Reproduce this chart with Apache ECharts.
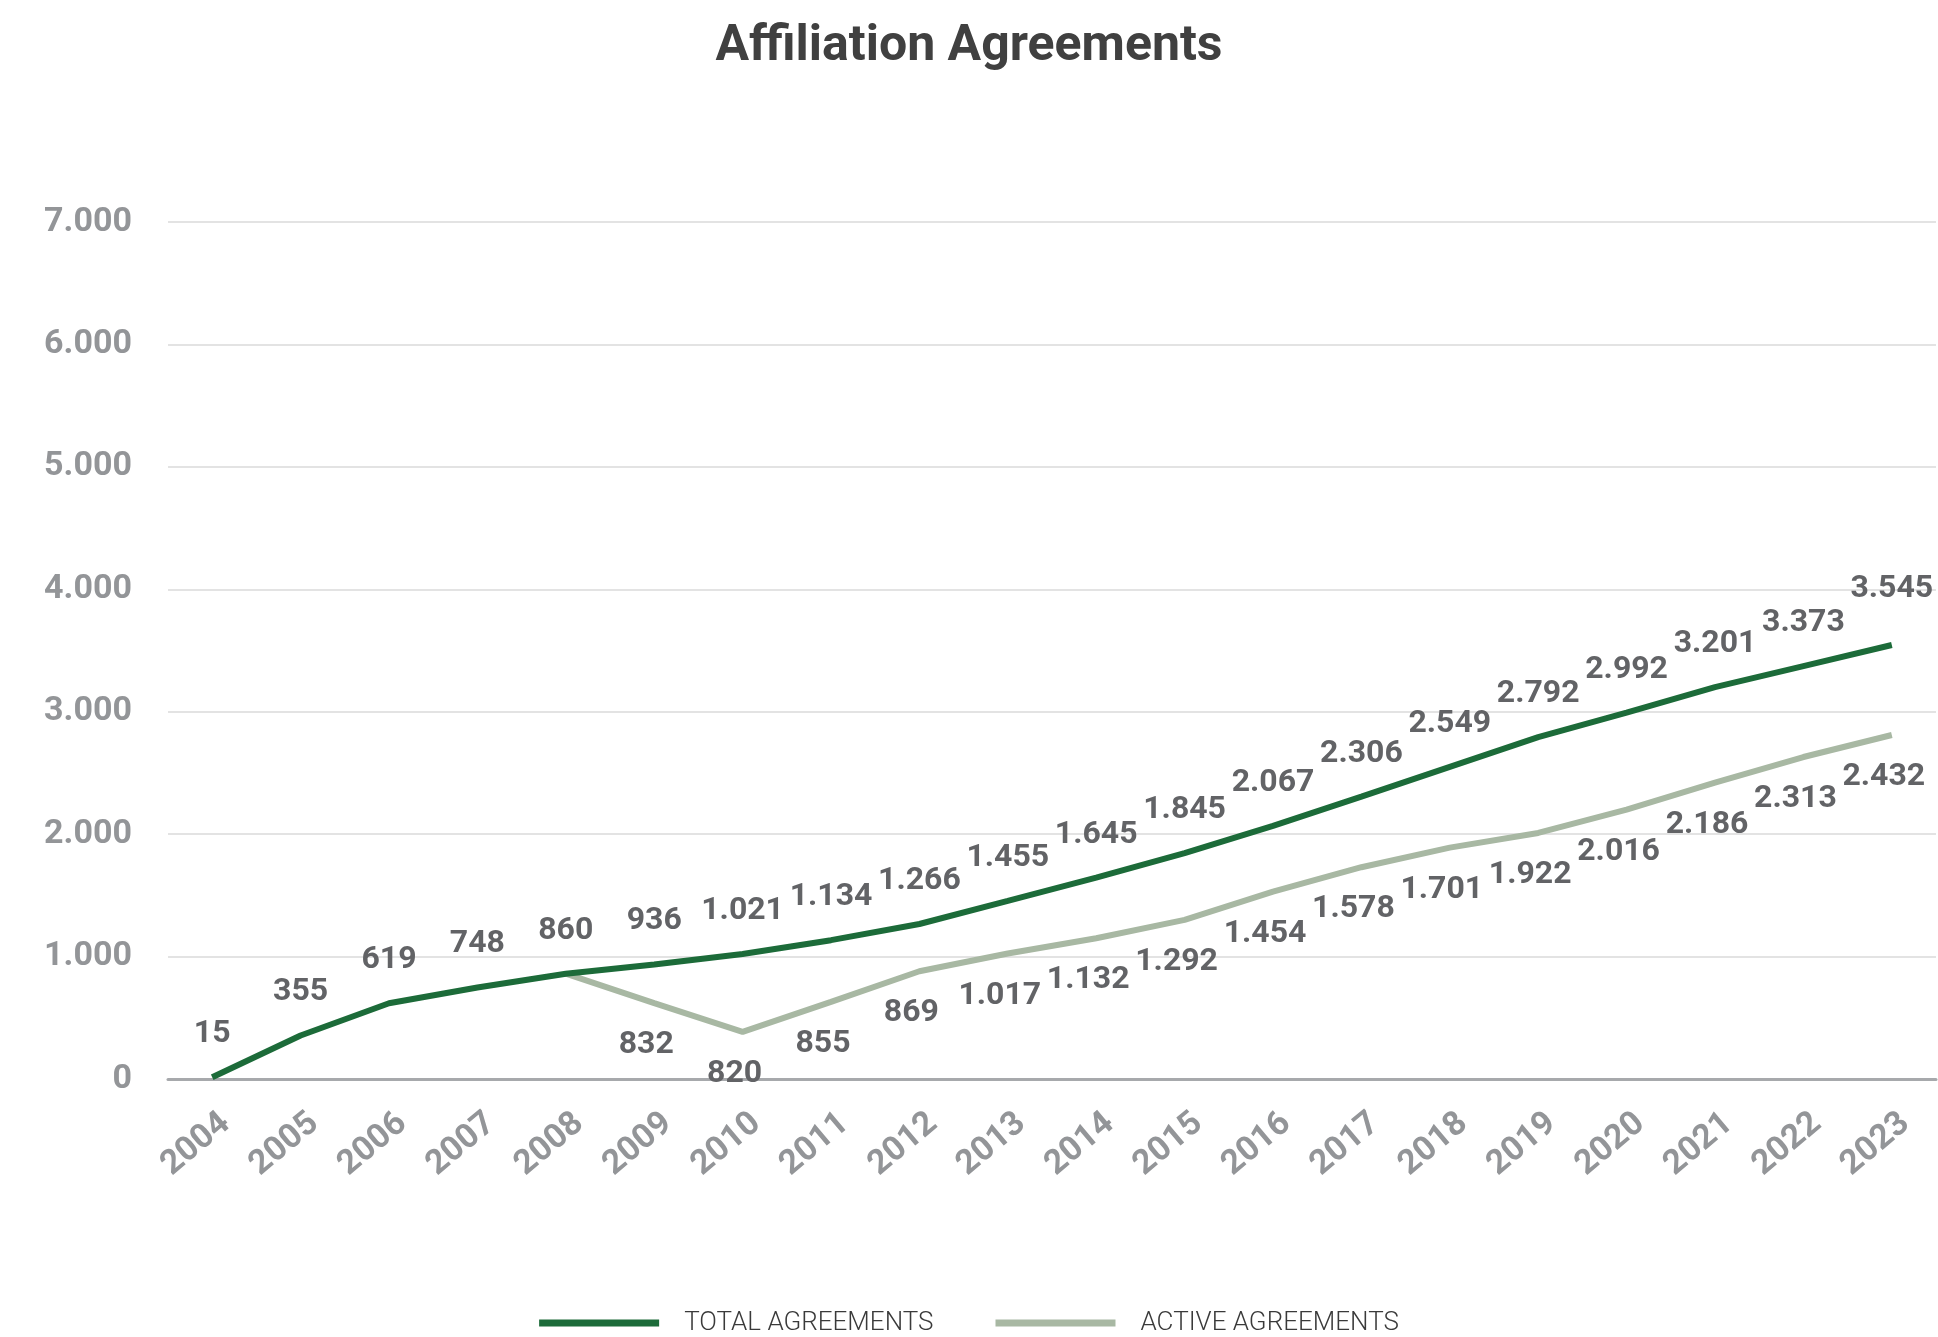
<!DOCTYPE html>
<html>
<head>
<meta charset="utf-8">
<script src="https://cdn.jsdelivr.net/npm/echarts@6/dist/echarts.min.js"></script>
<style>
html,body{margin:0;padding:0;background:#fff;}
#chart{width:1938px;height:1337px;}
</style>
</head>
<body>
<div id="chart"></div>
<script>
const years = ['2004','2005','2006','2007','2008','2009','2010','2011','2012','2013','2014','2015','2016','2017','2018','2019','2020','2021','2022','2023'];
const totalValues = [15,355,619,748,860,936,1021,1134,1266,1455,1645,1845,2067,2306,2549,2792,2992,3201,3373,3545];
// plotted position of the active line (as drawn)
const activeValues = [null,null,null,null,860,620,385,630,880,1025,1150,1300,1530,1730,1890,2010,2200,2420,2630,2810];
// labels printed next to the active line
const activeLabels = [null,null,null,null,null,832,820,855,869,1017,1132,1292,1454,1578,1701,1922,2016,2186,2313,2432];
const yTicks = [0,1000,2000,3000,4000,5000,6000,7000];

const FONT = "Roboto, 'Noto Sans', sans-serif";
function fmt(v){ return String(v).replace(/\B(?=(\d{3})+(?!\d))/g,'.'); }

const chart = echarts.init(document.getElementById('chart'), null, {renderer:'canvas'});
chart.setOption({
  animation:false,
  backgroundColor:'#ffffff',
  title:{
    text:'Affiliation Agreements',
    left:'center', top:17,
    textStyle:{fontFamily:FONT, fontSize:50, fontWeight:'bold', color:'#404040'}
  },
  grid:{left:168, right:2, top:222, bottom:258, containLabel:false},
  legend:{
    top:1305, left:'center',
    icon:'rect', itemWidth:120, itemHeight:7, itemGap:62,
    textStyle:{fontFamily:FONT, fontSize:26, fontWeight:300, color:'#3a3a3a', padding:[0,0,0,20]},
    data:['TOTAL AGREEMENTS','ACTIVE AGREEMENTS']
  },
  xAxis:{
    type:'category', data:years, boundaryGap:true,
    axisLine:{lineStyle:{color:'#a7a9ac', width:3}},
    axisTick:{show:false},
    axisLabel:{rotate:40, margin:52, padding:[0,-18,0,0], color:'#939598', fontFamily:FONT, fontWeight:'bold', fontSize:34, interval:0}
  },
  yAxis:{
    type:'value', min:0, max:7000, interval:1000,
    axisLine:{show:false}, axisTick:{show:false},
    splitLine:{lineStyle:{color:'#e3e3e3', width:2}},
    axisLabel:{margin:36, color:'#939598', fontFamily:FONT, fontWeight:'bold', fontSize:34, formatter:v=>fmt(v)}
  },
  series:[
    {
      name:'TOTAL AGREEMENTS', type:'line',
      data: totalValues.map((v,i)=> i===totalValues.length-1 ? {value:v, label:{distance:40}} : v),
      color:'#1c6b39',
      lineStyle:{width:6, color:'#1c6b39'},
      symbol:'circle', symbolSize:0.1, showSymbol:true,
      itemStyle:{color:'#1c6b39'},
      z:3,
      label:{show:true, position:'top', distance:27, color:'#626366', fontFamily:FONT, fontWeight:'bold', fontSize:32, formatter:p=>fmt(p.value)}
    },
    {
      name:'ACTIVE AGREEMENTS', type:'line',
      data: activeValues,
      color:'#a8b8a3',
      lineStyle:{width:6, color:'#a8b8a3'},
      symbol:'circle', symbolSize:0.1, showSymbol:true,
      itemStyle:{color:'#a8b8a3'},
      z:2,
      label:{show:true, position:'bottom', distance:26, offset:[-8,0], color:'#626366', fontFamily:FONT, fontWeight:'bold', fontSize:32,
        formatter:p=> activeLabels[p.dataIndex]==null ? '' : fmt(activeLabels[p.dataIndex])}
    }
  ]
});
</script>
</body>
</html>
